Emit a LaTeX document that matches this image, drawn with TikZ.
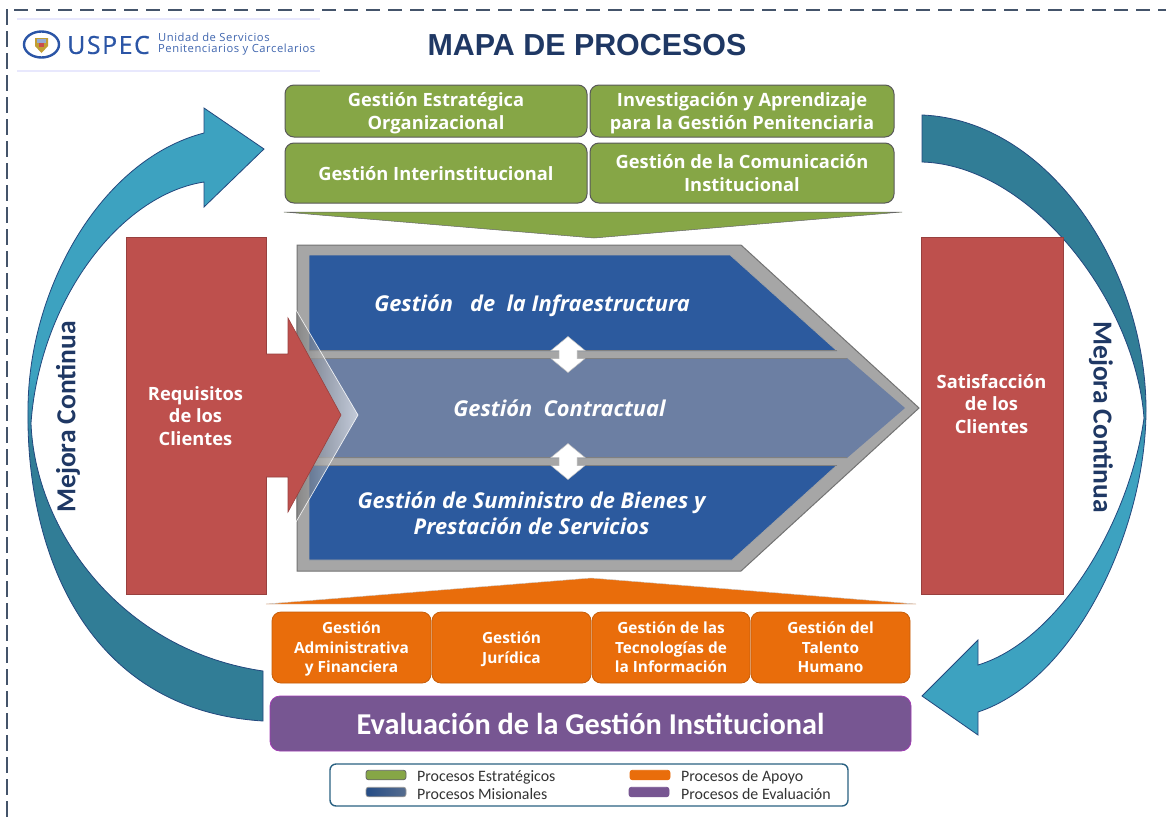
\documentclass[tikz,border=0pt]{standalone}
\usepackage{fontspec}
\setmainfont{Open Sans}
\newfontfamily\carl{Carlito}
\newfontfamily\lib{Liberation Sans}
\newfontfamily\uspf[LetterSpace=6,FakeBold=0.5]{Open Sans}
\newfontfamily\uspg[LetterSpace=5]{Open Sans}
\usetikzlibrary{calc}
\definecolor{navyt}{HTML}{1F3864}
\definecolor{dashc}{HTML}{44546A}
\definecolor{gr}{HTML}{86A646}
\definecolor{orc}{HTML}{E96D0B}
\definecolor{pur}{HTML}{775692}
\definecolor{redb}{HTML}{BE504D}
\definecolor{blu}{HTML}{2C5A9E}
\definecolor{mid}{HTML}{6C7FA3}
\definecolor{grayb}{HTML}{A6A6A6}
\definecolor{arrl}{HTML}{3DA2C0}
\definecolor{arrd}{HTML}{317D96}
\definecolor{uspec}{HTML}{2B55A6}
\pgfdeclareverticalshading{arrdown}{100bp}{color(0bp)=(arrd); color(47bp)=(arrd); color(53bp)=(arrl); color(100bp)=(arrl)}
\pgfdeclareverticalshading{arrup}{100bp}{color(0bp)=(arrl); color(47bp)=(arrl); color(53bp)=(arrd); color(100bp)=(arrd)}
\tikzset{
  x=1pt,y=-1pt,
  boxg/.style={draw=black!65,line width=1pt,fill=gr,rounded corners=9pt,text=white,align=center,anchor=center,inner sep=0pt,text depth=0pt,font=\fontsize{18.3}{22.5}\selectfont\bfseries},
  boxo/.style={draw=orc!85!black,line width=.8pt,fill=orc,rounded corners=9pt,text=white,align=center,inner sep=0pt,text depth=0pt,font=\fontsize{15.4}{19.5}\selectfont\bfseries},
  boxr/.style={draw=redb!80!black,line width=.7pt,fill=redb,inner sep=0pt},
  redt/.style={text=white,align=center,inner sep=0pt,font=\fontsize{18.3}{22.3}\selectfont\bfseries},
  lbl/.style={text=white,align=center,inner sep=0pt,font=\fontsize{21.8}{26}\selectfont\bfseries\itshape},
  legt/.style={anchor=west,inner sep=0pt,font=\carl\fontsize{15.9}{16}\selectfont,text=black!80},
  swatch/.style={rounded corners=2.5pt,line width=.8pt,minimum height=9.5,minimum width=40,inner sep=0pt},
  mej/.style={text=navyt,inner sep=0pt,font=\carl\fontsize{27.5}{30}\selectfont\bfseries},
  bigarr/.style={draw=blu!80!black,line width=.8pt},
}
\newcommand{\rrect}[6]{\node[#1,minimum width=#4-#2,minimum height=#5-#3] (#6) at ({(#2+#4)/2},{(#3+#5)/2})}
\begin{document}
\begin{tikzpicture}
\useasboundingbox[fill=white] (0,0) rectangle (1166,817);
% frame
\coordinate (fa) at (14,10); \coordinate (fb) at (1166,10);
\coordinate (fc) at (7,9); \coordinate (fd) at (7,817);
\draw[dashc,line width=1.4pt,dash pattern=on 14pt off 8pt] (fa) -- (fb);
\draw[dashc,line width=1.4pt,dash pattern=on 16pt off 6pt] (fc) -- (fd);
% header
\draw[black!10!blue!9,line width=1.6pt] (17,19) -- (320,19) (17,71) -- (320,71);
\draw[uspec,line width=2.4pt,fill=white] (41.5,44.5) ellipse (17.5 and 13);
\fill[orange!50!yellow!70!black!80] (35,38) -- (48,38) -- (48,46) -- (41.5,53) -- (35,46) -- cycle;
\fill[uspec!50] (37,39) rectangle (46,42.5);
\fill[red!70!black!70] (39,43) rectangle (44,47);
\node[inner sep=0pt,anchor=west,text=uspec,font=\uspf\fontsize{25}{26}\selectfont] (us) at (67,45) {USPEC};
\node[inner sep=0pt,anchor=west,text=uspec!90,align=left,font=\uspg\fontsize{11.2}{11.4}\selectfont] (us2) at (158,44) {Unidad de Servicios\\Penitenciarios y Carcelarios};
\node[inner sep=0pt,text=navyt,font=\lib\fontsize{30.4}{32}\selectfont\bfseries] (title) at (587,45) {MAPA DE PROCESOS};
% big arrows
\path[bigarr,shading=arrdown]
  (264,149) -- (204,108) -- (204,133)
  .. controls (100,160) and (28,290) .. (28,410)
  .. controls (26,550) and (85,710) .. (263,721)
  -- (263,671)
  .. controls (120,650) and (35,530) .. (31,423)
  .. controls (40,300) and (120,195) .. (204,182)
  -- (204,207) -- cycle;
\path[bigarr,shading=arrup]
  (922,115)
  .. controls (1050,120) and (1146,270) .. (1146,410)
  .. controls (1146,530) and (1075,680) .. (978,712)
  -- (978,735) -- (922,696) -- (978,640) -- (978,665)
  .. controls (1060,640) and (1130,520) .. (1144,418)
  .. controls (1135,300) and (1030,165) .. (922,162)
  -- cycle;
\node[mej,rotate=90] (mc1) at (68,417) {Mejora Continua};
\node[mej,rotate=-90] (mc2) at (1101,417) {Mejora Continua};
% green boxes
\rrect{boxg}{285}{85}{587}{137}{g1} {Gestión Estratégica\\Organizacional};
\rrect{boxg}{590}{85}{894}{137}{g2} {Investigación y Aprendizaje\\para la Gestión Penitenciaria};
\rrect{boxg}{285}{143}{587}{203}{g3} {Gestión Interinstitucional};
\rrect{boxg}{590}{143}{894}{203}{g4} {Gestión de la Comunicación\\Institucional};
\fill[gr,draw=black!60,line width=.5pt] (284,212) -- (902,212) -- (594,238) -- cycle;
% red boxes
\rrect{boxr}{126}{237}{266}{594}{rq} {};
\rrect{boxr}{921}{237}{1063}{594}{st} {};
\node[redt] (stt) at (991.5,404) {Satisfacción\\de los\\Clientes};
% chevron
\path[draw=black!55,line width=1pt,fill=grayb] (297,245) -- (741,245) -- (919,408) -- (741,571) -- (297,571) -- cycle;
\path[draw=black!35,line width=.6pt,fill=blu] (309,255) -- (730,255) -- (837,351) -- (309,351) -- cycle;
\path[draw=black!35,line width=.6pt,fill=blu] (309,465) -- (837,465) -- (732,560) -- (309,560) -- cycle;
\path[fill=mid] (309,358) -- (847,358) -- (905,408) -- (847,458) -- (309,458) -- cycle;
\draw[black!50,line width=.5pt] (309,350) -- (837,350) (309,358.5) -- (847,358.5) (309,457.5) -- (847,457.5) (309,465.5) -- (837,465.5);
% double arrows
\foreach \cy/\nm in {354.5/da,461.5/db}{
  \path[fill=white,draw=black!25,line width=.5pt]
   (568,\cy-18) -- (585,\cy-4) -- (577,\cy-4) -- (577,\cy+4) -- (585,\cy+4)
   -- (568,\cy+18) -- (551,\cy+4) -- (559,\cy+4) -- (559,\cy-4) -- (551,\cy-4) -- cycle;
}
% labels
\node[lbl] (m1) at (532,306) {Gestión\ \ \ de\ \ la Infraestructura};
\node[lbl] (m2) at (559.5,408) {Gestión\ \ Contractual};
\node[lbl] (m3) at (531.5,513) {Gestión de Suministro de Bienes y\\Prestación de Servicios};
% overlay chevron
\path[left color=black!55,right color=white,fill opacity=.6]
  (296,310) -- (358,415) -- (296,522) -- cycle;
\draw[white,opacity=.85,line width=.7pt] (296,310) -- (358,415) -- (296,522);
% red arrow
\path[fill=redb,draw=redb!80!black,line width=.6pt] (266,354) -- (288,354) -- (288,318) -- (341,415) -- (288,512) -- (288,477) -- (266,477);
\fill[redb] (260,355) rectangle (289,476);
\node[redt] (rqt) at (195.5,416) {Requisitos\\de los\\Clientes};
% orange
\fill[orc,draw=black!20,line width=.4pt] (266,604) -- (916,604) -- (591,578) -- cycle;
\rrect{boxo}{272}{612}{431}{683}{o1} {Gestión\\Administrativa\\y Financiera};
\rrect{boxo}{432}{612}{591}{683}{o2} {Gestión\\Jurídica};
\rrect{boxo}{592}{612}{750}{683}{o3} {Gestión de las\\Tecnologías de\\la Información};
\rrect{boxo}{751}{612}{910}{683}{o4} {Gestión del\\Talento\\Humano};
% purple
\node[draw=pur!70!magenta,line width=.8pt,fill=pur,rounded corners=10pt,text=white,inner sep=0pt,minimum width=641,minimum height=55,font=\carl\fontsize{30.3}{32}\selectfont\bfseries] (ev) at (590.5,723.5) {Evaluación de la Gestión Institucional};
% legend
\node[draw=arrd!60!navyt,line width=1.4pt,rounded corners=6pt,minimum width=518,minimum height=42,inner sep=0pt] (leg) at (589,785) {};
\node[swatch,draw=black!60,fill=gr] (s1) at (386,775) {};
\node[swatch,draw=black!40,left color=blu!85!black,right color=blu!50!gray] (s2) at (386,792) {};
\node[swatch,draw=orc,fill=orc] (s3) at (650,775) {};
\node[swatch,draw=pur,fill=pur] (s4) at (649,792) {};
\node[legt] (t1) at (417,777) {Procesos Estratégicos};
\node[legt] (t2) at (417,794) {Procesos Misionales};
\node[legt] (t3) at (681,777) {Procesos de Apoyo};
\node[legt] (t4) at (681,794) {Procesos de Evaluación};
\end{tikzpicture}
\end{document}
